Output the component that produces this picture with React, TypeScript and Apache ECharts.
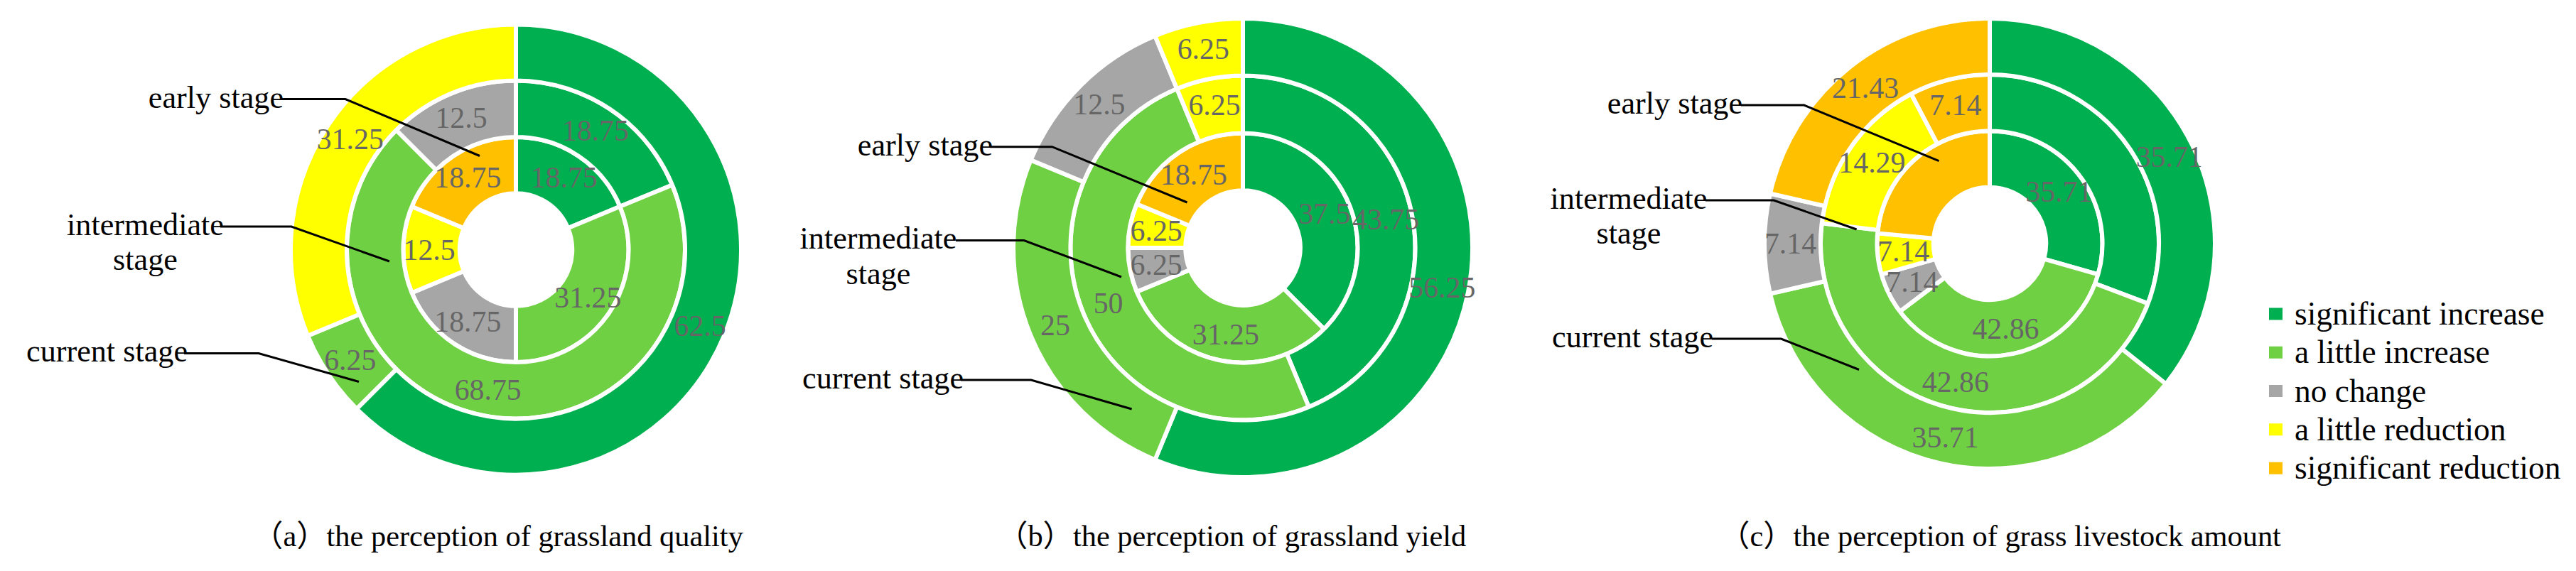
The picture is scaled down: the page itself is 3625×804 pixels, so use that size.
import React, { useEffect, useRef } from "react";
import * as echarts from "echarts";

const categories = ["significant increase", "a little increase", "no change", "a little reduction", "significant reduction"];
const colors = ["#00B050", "#70D044", "#A6A6A6", "#FFFF00", "#FFC000"];

// values per ring, in category order (null = category absent)
const qualityEarly = [18.75, 31.25, 18.75, 12.5, 18.75];
const qualityIntermediate = [18.75, 68.75, 12.5, null, null];
const qualityCurrent = [62.5, 6.25, null, 31.25, null];

const yieldEarly = [37.5, 31.25, 6.25, 6.25, 18.75];
const yieldIntermediate = [43.75, 50, null, 6.25, null];
const yieldCurrent = [56.25, 25, 12.5, 6.25, null];

const livestockEarly = [35.71, 42.86, 7.14, 7.14, 28.57];
const livestockIntermediate = [28.57, 42.86, null, 14.29, 7.14];
const livestockCurrent = [35.71, 35.71, 7.14, null, 21.43];

const stageNames = ["early stage", "intermediate\nstage", "current stage"];
const captions = [
  "（a）the perception of grassland quality",
  "（b）the perception of grassland yield",
  "（c）the perception of grass livestock amount",
];

const SERIF = "'Liberation Serif', 'Noto Sans CJK SC', serif";

// layout of the three panels
const panels = [
  { rings: [qualityEarly, qualityIntermediate, qualityCurrent], cx: 726, cy: 351.5, R: 314 },
  { rings: [yieldEarly, yieldIntermediate, yieldCurrent], cx: 1749, cy: 349, R: 320 },
  { rings: [livestockEarly, livestockIntermediate, livestockCurrent], cx: 2800, cy: 343, R: 314 },
];

// annotation layout (stage labels + leader lines)
const stageLayouts = [
  {
    early: { x: 399, y: 137, line: [[395, 139.5], [486, 139.5], [675, 219.5]] },
    inter: { x: 204.5, y: 340.5, lh: 49, line: [[310, 319], [410, 319], [548, 368]] },
    current: { x: 264, y: 494, line: [[259, 497.5], [364, 497.5], [505, 537.5]] },
  },
  {
    early: { x: 1397, y: 204, line: [[1393, 206.7], [1480.5, 206.7], [1670.5, 285]] },
    inter: { x: 1236, y: 360.5, lh: 50, line: [[1345, 338.5], [1441, 338.5], [1578, 390]] },
    current: { x: 1356, y: 532, line: [[1352, 535], [1451, 535], [1592.6, 576]] },
  },
  {
    early: { x: 2452, y: 145, line: [[2450, 148], [2538.7, 148], [2728.5, 226.7]] },
    inter: { x: 2292, y: 303.5, lh: 49, line: [[2400, 282], [2496, 282], [2612.6, 323]] },
    current: { x: 2411, y: 474, line: [[2409, 477], [2506.4, 477], [2616, 520.5]] },
  },
];
const captionLeft = [356, 1404, 2420];
const captionY = 754;

// fit a font size so that a sample string reaches a target width
function fitSize(sample: string, target: number, fallback: number) {
  try {
    const ctx = document.createElement("canvas").getContext("2d");
    if (!ctx) return fallback;
    ctx.font = `100px ${SERIF}`;
    const w = ctx.measureText(sample).width;
    if (!w) return fallback;
    return Math.round((100 * target) / w * 10) / 10;
  } catch (e) {
    return fallback;
  }
}

function buildOption() {
  const stageSize = fitSize("intermediate", 221, 44);
  const captionSize = fitSize("the perception of grassland quality", 587, 43);
  const legendSize = fitSize("significant increase", 352, 45);
  const labelSize = fitSize("18.75", 94, 40);

  const series: any[] = [];
  panels.forEach((p, pi) => {
    const b = [p.R * 0.262 - 3, p.R * 0.505, p.R * 0.758, p.R + 3];
    p.rings.forEach((vals, ri) => {
      const data = vals
        .map((v, ci) => (v == null ? null : { name: categories[ci], value: v, itemStyle: { color: colors[ci] } }))
        .filter((d) => d !== null);
      series.push({
        type: "pie",
        name: `panel${pi}-ring${ri}`,
        center: [p.cx, p.cy],
        radius: [b[ri], b[ri + 1]],
        startAngle: 90,
        clockwise: true,
        avoidLabelOverlap: false,
        silent: true,
        itemStyle: { borderColor: "#ffffff", borderWidth: 6 },
        label: {
          show: true,
          position: "inside",
          formatter: "{c}",
          color: "#666666",
          fontSize: labelSize,
          fontFamily: SERIF,
        },
        labelLine: { show: false },
        emphasis: { disabled: true },
        data,
      });
    });
  });

  const graphic: any[] = [];
  stageLayouts.forEach((s) => {
    const items = [
      { k: s.early, text: stageNames[0], align: "right" },
      { k: s.inter, text: stageNames[1], align: "center" },
      { k: s.current, text: stageNames[2], align: "right" },
    ];
    items.forEach((it: any) => {
      graphic.push({
        type: "polyline",
        z: 100,
        shape: { points: it.k.line },
        style: { stroke: "#000000", lineWidth: 3, fill: null },
      });
      graphic.push({
        type: "text",
        z: 101,
        x: it.k.x,
        y: it.k.y,
        style: {
          text: it.text,
          fill: "#000000",
          fontSize: stageSize,
          fontFamily: SERIF,
          align: it.align,
          verticalAlign: "middle",
          textAlign: it.align,
          textVerticalAlign: "middle",
          lineHeight: it.k.lh || 44,
        },
      });
    });
  });
  captions.forEach((c, i) => {
    graphic.push({
      type: "text",
      z: 101,
      x: captionLeft[i],
      y: captionY,
      style: {
        text: c,
        fill: "#000000",
        fontSize: captionSize,
        fontFamily: SERIF,
        align: "left",
        verticalAlign: "middle",
        textAlign: "left",
        textVerticalAlign: "middle",
      },
    });
  });

  return {
    animation: false,
    color: colors,
    legend: {
      orient: "vertical",
      left: 3191,
      top: 442 - legendSize / 2,
      padding: 0,
      itemWidth: 21,
      itemHeight: 19,
      itemGap: Math.max(0, 54.3 - legendSize),
      icon: "rect",
      selectedMode: false,
      data: categories,
      textStyle: { fontSize: legendSize, fontFamily: SERIF, color: "#000000", padding: [0, 0, 0, 11] },
    },
    series,
    graphic,
  };
}

export default function App() {
  const ref = useRef<HTMLDivElement>(null);
  useEffect(() => {
    document.body.style.margin = "0";
    const chart = echarts.init(ref.current as HTMLDivElement, null, { renderer: "svg" });
    chart.setOption(buildOption() as any);
    return () => chart.dispose();
  }, []);
  return <div ref={ref} style={{ width: 3625, height: 804, background: "#ffffff" }} />;
}
